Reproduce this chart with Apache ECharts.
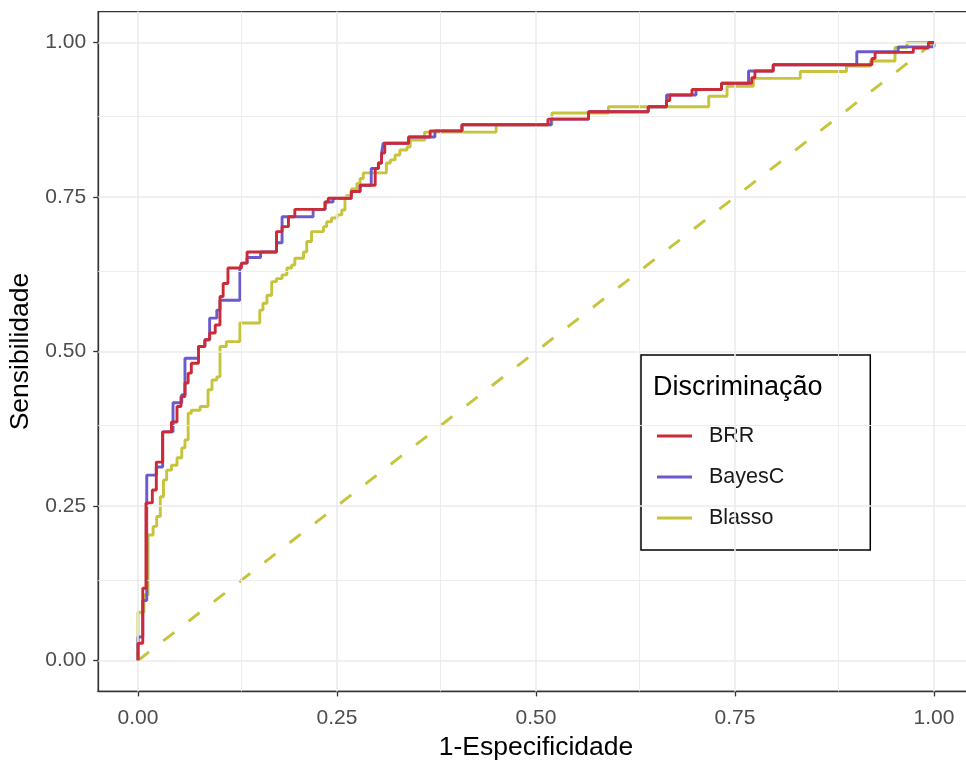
<!DOCTYPE html>
<html><head><meta charset="utf-8">
<script src="https://cdn.jsdelivr.net/npm/echarts@6/dist/echarts.min.js"></script>
<style>html,body{margin:0;padding:0;background:#fff;overflow:hidden}#c{width:966px;height:760px}</style>
</head><body><div id="c"></div>
<script>
// ROC step corners: each point = end of a horizontal run (vertical move happens first)
const seriesNames = ['BRR', 'BayesC', 'Blasso'];
const brr = [
 [0,0],[0.006,0.028],[0.010,0.117],[0.018,0.255],[0.023,0.276],[0.031,0.321],[0.042,0.370],
 [0.049,0.386],[0.054,0.411],[0.059,0.427],[0.063,0.449],[0.067,0.465],[0.076,0.481],[0.084,0.508],
 [0.090,0.519],[0.097,0.530],[0.103,0.543],[0.107,0.589],[0.113,0.610],[0.130,0.635],[0.137,0.643],
 [0.174,0.661],[0.181,0.694],[0.189,0.702],[0.197,0.718],[0.235,0.730],[0.239,0.742],[0.268,0.748],
 [0.279,0.759],[0.298,0.769],[0.302,0.796],[0.306,0.805],[0.310,0.821],[0.340,0.837],[0.367,0.847],
 [0.407,0.857],[0.515,0.867],[0.566,0.876],[0.641,0.888],[0.664,0.896],[0.668,0.906],[0.696,0.915],
 [0.733,0.924],[0.771,0.934],[0.775,0.943],[0.798,0.954],[0.922,0.964],[0.926,0.974],[0.974,0.984],
 [0.993,0.991],[1,1]
];
const bayesC = [
 [0,0],[0.006,0.038],[0.011,0.097],[0.023,0.300],[0.031,0.313],[0.044,0.370],[0.055,0.417],
 [0.059,0.430],[0.076,0.489],[0.084,0.508],[0.090,0.519],[0.099,0.554],[0.103,0.567],[0.128,0.583],
 [0.130,0.635],[0.137,0.643],[0.154,0.652],[0.174,0.661],[0.181,0.676],[0.220,0.718],[0.235,0.730],
 [0.245,0.742],[0.268,0.748],[0.279,0.759],[0.293,0.769],[0.302,0.796],[0.306,0.805],[0.308,0.821],
 [0.340,0.837],[0.373,0.847],[0.407,0.857],[0.519,0.867],[0.566,0.876],[0.641,0.888],[0.664,0.896],
 [0.701,0.915],[0.733,0.924],[0.767,0.934],[0.798,0.954],[0.903,0.964],[0.955,0.985],[1,0.993],[1,1]
];
const blasso = [
 [0,0],[0.0075,0.078],[0.0126,0.106],[0.019,0.203],[0.0235,0.217],[0.028,0.233],[0.032,0.265],
 [0.036,0.292],[0.042,0.308],[0.049,0.316],[0.055,0.328],[0.059,0.344],[0.063,0.357],[0.067,0.400],
 [0.078,0.405],[0.088,0.411],[0.093,0.438],[0.099,0.454],[0.103,0.459],[0.111,0.508],[0.128,0.516],
 [0.153,0.546],[0.157,0.567],[0.162,0.578],[0.168,0.591],[0.174,0.613],[0.181,0.618],[0.187,0.624],
 [0.193,0.635],[0.197,0.640],[0.208,0.651],[0.212,0.661],[0.218,0.678],[0.233,0.694],[0.237,0.702],
 [0.243,0.710],[0.250,0.716],[0.256,0.721],[0.260,0.729],[0.262,0.745],[0.268,0.752],[0.275,0.763],
 [0.279,0.772],[0.283,0.780],[0.312,0.789],[0.317,0.805],[0.323,0.810],[0.329,0.818],[0.338,0.826],
 [0.342,0.831],[0.360,0.842],[0.450,0.855],[0.520,0.867],[0.591,0.886],[0.717,0.896],[0.740,0.913],
 [0.773,0.929],[0.832,0.942],[0.890,0.953],[0.920,0.962],[0.951,0.970],[0.966,0.992],[1,1]
];
const diagonal = [[0,0],[1,1]];
const majorTicks = [0, 0.25, 0.5, 0.75, 1];
const minorTicks = [0.125, 0.375, 0.625, 0.875];
const colors = { BRR: '#CB2A37', BayesC: '#6A5ACD', Blasso: '#C6C43B' };

const FONT = '"Liberation Sans", Arial, sans-serif';
const chart = echarts.init(document.getElementById('c'), null, { renderer: 'canvas' });

const gridLines = [];
majorTicks.forEach(v => { gridLines.push({ xAxis: v, lineStyle: { width: 1.6 } }); gridLines.push({ yAxis: v, lineStyle: { width: 1.6 } }); });
minorTicks.forEach(v => { gridLines.push({ xAxis: v, lineStyle: { width: 0.9 } }); gridLines.push({ yAxis: v, lineStyle: { width: 0.9 } }); });

function curve(name, data, z) {
  return {
    name: name, type: 'line', data: data, step: 'start', symbol: 'none', z: z,
    lineStyle: { color: colors[name], width: 2.9 }, itemStyle: { color: colors[name] },
    animation: false, silent: true
  };
}

function axis(name, gap, margin) {
  return {
    type: 'value', min: -0.05, max: 1.05, name: name, nameGap: gap, nameLocation: 'middle',
    nameTextStyle: { color: '#000', fontSize: 26.5, fontFamily: FONT },
    axisLine: { show: true, onZero: false, lineStyle: { color: '#333333', width: 1.3 } },
    axisTick: { show: true, customValues: majorTicks, length: 5, lineStyle: { color: '#333333', width: 1.3 } },
    axisLabel: { customValues: majorTicks, formatter: v => v.toFixed(2), color: '#4D4D4D', fontSize: 21, fontFamily: FONT, margin: margin },
    splitLine: { show: false }
  };
}

chart.setOption({
  animation: false,
  backgroundColor: '#ffffff',
  textStyle: { fontFamily: FONT },
  grid: { left: 98.2, top: 11.6, width: 875.6, height: 679.8, containLabel: false, outerBoundsMode: 'none',
          show: true, borderColor: '#333333', borderWidth: 1.3, backgroundColor: 'transparent' },
  xAxis: axis('1-Especificidade', 43, 16),
  yAxis: axis('Sensibilidade', 57, 12),
  title: { text: 'Discriminação', left: 653, top: 374, padding: 0, textStyle: { fontSize: 27, fontWeight: 'normal', color: '#000', fontFamily: FONT } },
  legend: {
    data: seriesNames, orient: 'vertical', left: 641, top: 355,
    icon: 'rect', itemWidth: 35, itemHeight: 3, itemGap: 19,
    padding: [70, 86, 21, 16],
    borderColor: '#000', borderWidth: 1.5, backgroundColor: '#fff',
    textStyle: { fontSize: 21.5, lineHeight: 20, color: '#1A1A1A', fontFamily: FONT, padding: [0, 0, 0, 12] },
    selectedMode: false
  },
  series: [
    { name: 'grid', type: 'line', data: [[0, 0]], symbol: 'none', lineStyle: { opacity: 0 }, z: 1, silent: true,
      markLine: { silent: true, symbol: ['none', 'none'], label: { show: false }, animation: false,
        lineStyle: { color: '#EBEBEB', type: 'solid' }, data: gridLines } },
    { name: 'diag', type: 'line', data: diagonal, symbol: 'none', z: 2, silent: true,
      lineStyle: { color: colors.Blasso, width: 2.9, type: [14, 18] } },
    curve('Blasso', blasso, 3),
    curve('BayesC', bayesC, 4),
    curve('BRR', brr, 5)
  ]
});
</script>
</body></html>
